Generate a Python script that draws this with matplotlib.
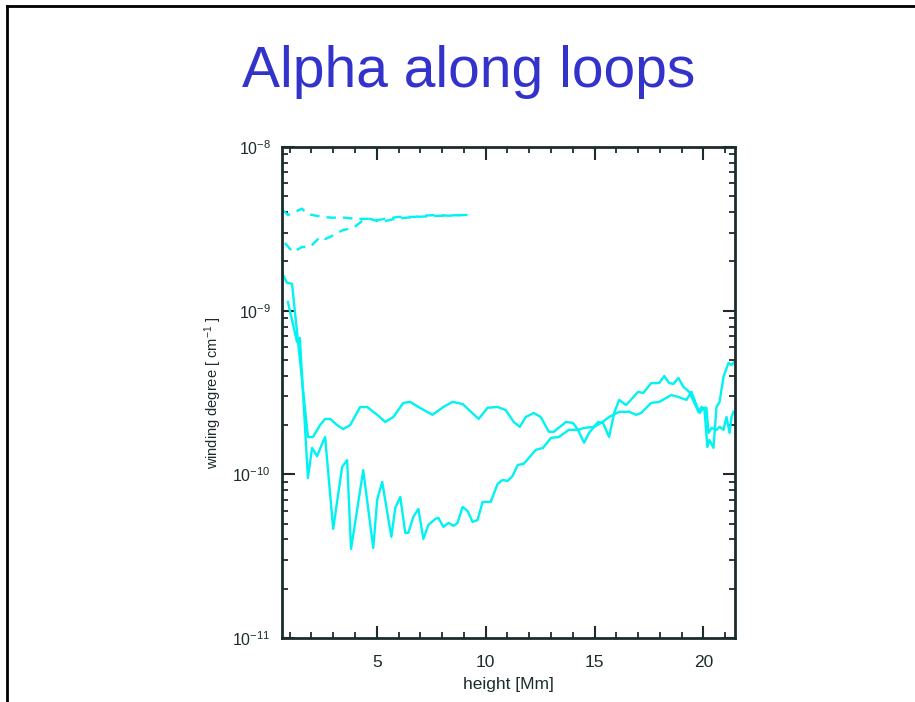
import matplotlib
matplotlib.use('Agg')
import matplotlib.pyplot as plt
from matplotlib.lines import Line2D
from matplotlib.ticker import MultipleLocator, LogLocator, NullFormatter

plt.rcParams['font.family'] = ['Liberation Sans', 'DejaVu Sans']
plt.rcParams['mathtext.fontset'] = 'custom'
plt.rcParams['mathtext.rm'] = 'Liberation Sans'
plt.rcParams['mathtext.default'] = 'regular'

# dashed curves (upper / lower)
dash1_x = [0.69, 0.92, 1.57, 1.80, 2.49, 2.95, 3.55, 4.01, 4.56, 5.02, 5.76, 5.99, 6.77, 7.00, 7.79, 8.39, 8.99, 9.17]
dash1_y = [4.12e-9, 3.84e-9, 4.2e-9, 3.9e-9, 3.74e-9, 3.70e-9, 3.70e-9, 3.64e-9, 3.64e-9, 3.58e-9,
           3.70e-9, 3.74e-9, 3.74e-9, 3.80e-9, 3.84e-9, 3.80e-9, 3.84e-9, 3.84e-9]
dash2_x = [0.78, 1.15, 1.57, 1.94, 2.40, 2.63, 2.86, 3.18, 3.46, 3.92, 4.33, 4.70, 5.16, 5.85, 6.77, 7.93, 8.99]
dash2_y = [2.59e-9, 2.28e-9, 2.45e-9, 2.45e-9, 2.82e-9, 2.74e-9, 2.82e-9, 2.98e-9, 3.11e-9, 3.2e-9,
           3.53e-9, 3.64e-9, 3.48e-9, 3.64e-9, 3.74e-9, 3.80e-9, 3.84e-9]

# smooth solid curve
solA_x = [0.65, 0.88, 1.11, 1.84, 2.07, 2.40, 2.63, 2.86, 3.18, 3.46, 3.78, 4.24, 4.56, 5.02, 5.39, 5.76,
          6.22, 6.54, 6.91, 7.56, 8.06, 8.48, 8.94, 9.68, 10.09, 10.55, 10.92, 11.29, 11.57, 11.84, 12.21,
          12.53, 12.90, 13.13, 13.69, 14.01, 14.24, 14.52, 14.75, 15.16, 15.39, 15.67, 15.90, 16.13, 16.45,
          17.00, 17.24, 17.60, 17.97, 18.20, 18.43, 18.62, 18.85, 19.08, 19.35, 19.77, 19.91, 20.05, 20.18,
          20.28, 20.46, 20.60, 20.74, 20.92, 21.15, 21.29, 21.43]
solA_y = [1.70e-9, 1.48e-9, 1.46e-9, 1.69e-10, 1.69e-10, 2.00e-10, 2.18e-10, 2.18e-10, 2.00e-10, 1.89e-10,
          2.00e-10, 2.58e-10, 2.58e-10, 2.31e-10, 2.09e-10, 2.24e-10, 2.73e-10, 2.77e-10, 2.58e-10, 2.31e-10,
          2.58e-10, 2.77e-10, 2.69e-10, 2.18e-10, 2.55e-10, 2.58e-10, 2.47e-10, 2.09e-10, 1.95e-10, 2.24e-10,
          2.37e-10, 2.24e-10, 1.82e-10, 1.82e-10, 2.09e-10, 2.06e-10, 1.87e-10, 1.56e-10, 1.79e-10, 2.09e-10,
          2.06e-10, 1.69e-10, 2.37e-10, 2.85e-10, 2.65e-10, 3.19e-10, 3.14e-10, 3.61e-10, 3.61e-10, 3.99e-10,
          3.61e-10, 3.57e-10, 3.88e-10, 3.42e-10, 3.19e-10, 2.41e-10, 2.58e-10, 2.47e-10, 1.47e-10, 1.62e-10,
          1.45e-10, 2.58e-10, 2.77e-10, 3.94e-10, 4.79e-10, 4.66e-10, 4.86e-10]

# spiky solid curve
solB_x = [0.92, 1.34, 1.47, 1.84, 2.03, 2.26, 2.53, 2.63, 3.00, 3.41, 3.64, 3.82, 4.38, 4.84, 5.02, 5.25,
          5.67, 5.85, 6.08, 6.31, 6.45, 6.68, 6.91, 7.14, 7.37, 7.70, 7.83, 8.06, 8.29, 8.53, 8.71, 8.94,
          9.17, 9.40, 9.63, 9.86, 10.23, 10.55, 10.78, 11.01, 11.24, 11.47, 11.75, 12.30, 12.63, 13.00,
          13.36, 13.82, 14.24, 14.52, 14.98, 15.30, 15.67, 16.13, 16.59, 16.91, 17.14, 17.60, 17.97, 18.52,
          18.85, 19.22, 19.45, 19.59, 19.82, 20.00, 20.14, 20.23, 20.37, 20.60, 20.74, 20.92, 21.06, 21.20,
          21.29, 21.38]
solB_y = [1.13e-9, 6.44e-10, 6.81e-10, 9.51e-11, 1.45e-10, 1.29e-10, 1.58e-10, 1.69e-10, 4.64e-11, 1.11e-10,
          1.22e-10, 3.50e-11, 1.06e-10, 3.55e-11, 6.98e-11, 8.99e-11, 4.15e-11, 6.23e-11, 7.28e-11, 4.39e-11,
          4.39e-11, 5.49e-11, 6.15e-11, 4.03e-11, 4.91e-11, 5.35e-11, 5.42e-11, 4.77e-11, 5.05e-11, 4.84e-11,
          5.05e-11, 6.32e-11, 5.98e-11, 5.12e-11, 5.26e-11, 6.78e-11, 6.78e-11, 8.74e-11, 9.24e-11, 9.11e-11,
          9.78e-11, 1.14e-10, 1.16e-10, 1.41e-10, 1.45e-10, 1.67e-10, 1.69e-10, 1.87e-10, 1.87e-10, 1.92e-10,
          1.95e-10, 2.06e-10, 2.24e-10, 2.41e-10, 2.41e-10, 2.31e-10, 2.37e-10, 2.73e-10, 2.77e-10, 3.05e-10,
          2.97e-10, 2.85e-10, 3.19e-10, 2.85e-10, 2.37e-10, 2.55e-10, 2.55e-10, 1.79e-10, 1.92e-10, 1.87e-10,
          1.95e-10, 1.87e-10, 2.24e-10, 1.79e-10, 2.24e-10, 2.41e-10]

cyan = '#00f2f2'
dark = '#1c2c2c'

fig = plt.figure(figsize=(9.15, 7.02), dpi=100)
ax = fig.add_axes([0.3082, 0.0912, 0.4951, 0.6994])

ax.plot(dash1_x, dash1_y, color=cyan, lw=1.7, dashes=(4, 3))
ax.plot(dash2_x, dash2_y, color=cyan, lw=1.7, dashes=(4, 3))
ax.plot(solA_x, solA_y, color=cyan, lw=1.7)
ax.plot(solB_x, solB_y, color=cyan, lw=1.7)

ax.set_yscale('log')
ax.set_ylim(1e-11, 1e-8)
ax.set_xlim(0.65, 21.45)
ax.xaxis.set_major_locator(MultipleLocator(5))
ax.xaxis.set_minor_locator(MultipleLocator(1))
ax.yaxis.set_major_locator(LogLocator(base=10, numticks=10))
ax.yaxis.set_minor_locator(LogLocator(base=10, subs=range(2, 10), numticks=20))
ax.yaxis.set_minor_formatter(NullFormatter())

ax.tick_params(which='both', direction='in', top=True, right=True, color=dark, labelcolor=dark)
ax.tick_params(which='major', length=9, width=1.5)
ax.tick_params(which='minor', length=4.5, width=1.3)
ax.tick_params(axis='x', which='major', labelsize=12.5, pad=12)
ax.tick_params(axis='y', which='major', labelsize=11.5, pad=8)
for s in ax.spines.values():
    s.set_color(dark)
    s.set_linewidth(2)

ax.set_xlabel('height [Mm]', fontsize=12.5, color=dark, labelpad=5)
ax.set_ylabel('winding degree [ cm$^{-1}$ ]', fontsize=10.5, color=dark, labelpad=6)

fig.text(0.512, 0.898, 'Alpha along loops', fontsize=41, color='#3333cc', ha='center', va='center')

# slide frame
fig.add_artist(Line2D([0.0077, 1.0], [0.9915, 0.9915], color='black', lw=2, transform=fig.transFigure))
fig.add_artist(Line2D([0.0077, 0.0077], [0.0, 0.9915], color='black', lw=2, transform=fig.transFigure))

fig.savefig('out.png', dpi=100)
